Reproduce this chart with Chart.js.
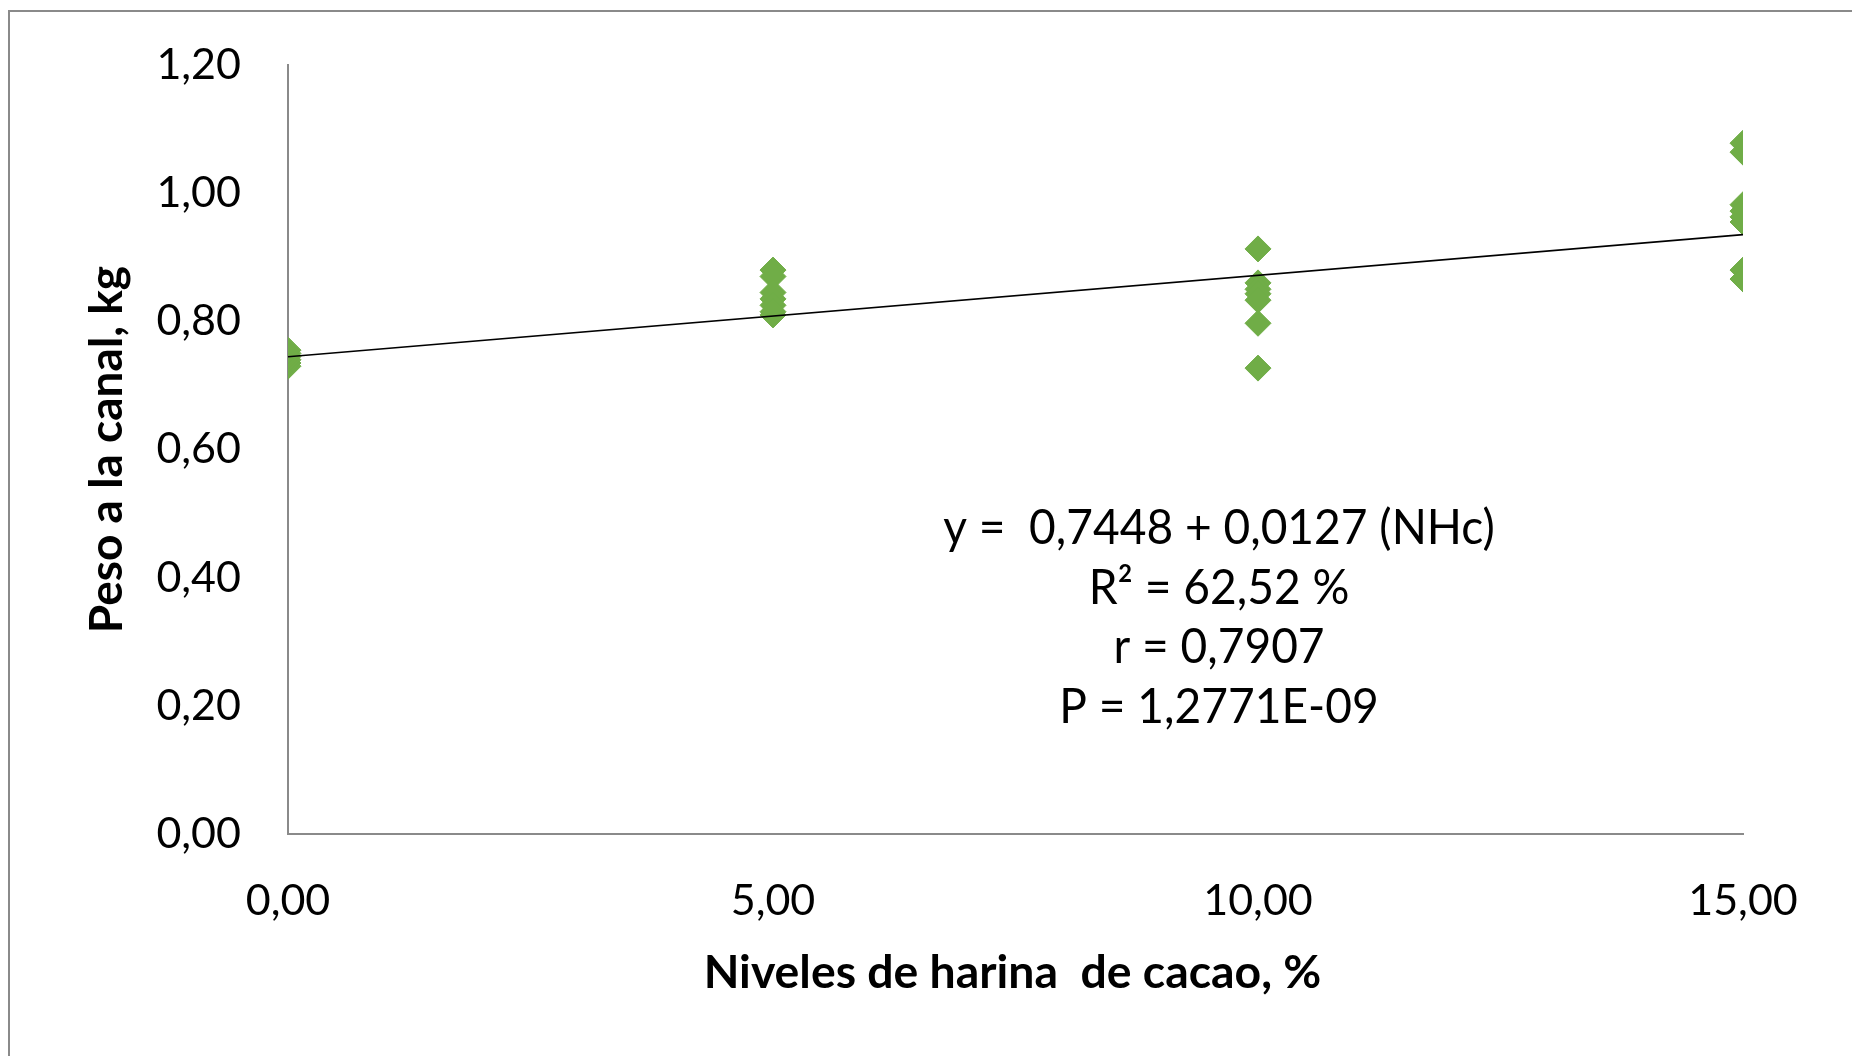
<!DOCTYPE html>
<html lang="es">
<head>
<meta charset="utf-8">
<title>Peso a la canal según niveles de harina de cacao</title>
<script src="https://cdn.jsdelivr.net/npm/chart.js@4.4.1/dist/chart.umd.min.js"></script>
<style>
  html, body { margin: 0; padding: 0; background: #fff; overflow: hidden; }
  #wrap { position: relative; width: 1852px; height: 1056px; }
  #frame { position: absolute; left: 8px; top: 10px; width: 1900px; height: 1100px;
           border-left: 2px solid #8a8a8a; border-top: 2px solid #8a8a8a; }
  canvas { position: absolute; left: 0; top: 0; }
</style>
</head>
<body>
<div id="wrap">
  <div id="frame"></div>
  <canvas id="grafico" width="1852" height="1056"></canvas>
</div>
<script>
// Peso a la canal (kg) de cada animal según el nivel de harina de cacao (%)
const niveles = [0, 5, 10, 15];
const peso0  = [0.730, 0.735, 0.740, 0.745, 0.750, 0.755];
const peso5  = [0.880, 0.870, 0.845, 0.835, 0.825, 0.815, 0.810];
const peso10 = [0.913, 0.860, 0.850, 0.843, 0.833, 0.797, 0.727];
const peso15 = [1.078, 1.064, 0.982, 0.972, 0.963, 0.955, 0.880, 0.866];

// Recta ajustada y = 0,7448 + 0,0127 (NHc), extremos en 0 y 15 %
const rectaX = [0, 15];
const rectaY = [0.7448, 0.9353];

// Etiquetas de los ejes
const xTickLabels = ['0,00', '5,00', '10,00', '15,00'];
const yTickLabels = ['0,00', '0,20', '0,40', '0,60', '0,80', '1,00', '1,20'];
const tituloX = 'Niveles de harina  de cacao, %';
const tituloY = 'Peso a la canal, kg';
const ecuacion = ['y =  0,7448 + 0,0127 (NHc)', 'R² = 62,52 %', 'r = 0,7907', 'P = 1,2771E-09'];

const grupos = [peso0, peso5, peso10, peso15];
const puntos = [];
grupos.forEach((g, i) => g.forEach(v => puntos.push({ x: niveles[i], y: v })));
const recta = rectaX.map((x, i) => ({ x: x, y: rectaY[i] }));

// Título del eje X y recuadro con la ecuación
const textos = {
  id: 'textos',
  afterDatasetsDraw(chart) {
    const ctx = chart.ctx;
    const ca = chart.chartArea;
    ctx.save();
    ctx.fillStyle = '#000';
    ctx.textAlign = 'center';
    ctx.textBaseline = 'alphabetic';

    ctx.font = 'bold 45px Lato';
    ctx.save();
    ctx.translate((ca.left + ca.right) / 2 - 3, ca.bottom + 154);
    ctx.scale(1.03, 1);
    ctx.fillText(tituloX, 0, 0);
    ctx.restore();

    const cx = ca.left + 931;
    ctx.font = '48px Lato';
    ecuacion.forEach((t, i) => {
      ctx.save();
      ctx.translate(cx, 544 + 59.5 * i);
      ctx.scale(0.96, 1);
      ctx.fillText(t, 0, 0);
      ctx.restore();
    });
    ctx.restore();
  }
};

new Chart(document.getElementById('grafico'), {
  type: 'scatter',
  data: {
    datasets: [
      {
        type: 'line',
        data: recta,
        borderColor: '#000',
        borderWidth: 1.6,
        pointRadius: 0,
        fill: false,
        order: 0
      },
      {
        data: puntos,
        pointStyle: 'rectRot',
        pointRadius: 13,
        pointHoverRadius: 13,
        backgroundColor: '#70ad47',
        borderColor: '#70ad47',
        borderWidth: 1,
        order: 1
      }
    ]
  },
  options: {
    responsive: false,
    animation: false,
    devicePixelRatio: 1,
    events: [],
    layout: { padding: { top: 65, right: 109, left: 0, bottom: 0 } },
    plugins: { legend: { display: false }, tooltip: { enabled: false } },
    scales: {
      x: {
        type: 'linear',
        min: 0, max: 15,
        afterFit(s) { s.height = 222; },
        grid: { display: false, drawTicks: false },
        border: { display: true, color: '#8a8a8a', width: 2 },
        ticks: {
          stepSize: 5,
          padding: 41,
          color: '#000',
          font: { family: 'Lato', size: 43 },
          callback: (v, i) => xTickLabels[i]
        }
      },
      y: {
        type: 'linear',
        min: 0, max: 1.2,
        afterFit(s) {
          s.width = 288;
          s.paddingTop = 26;
          s.paddingBottom = 26;
        },
        grid: { display: false, drawTicks: false },
        border: { display: true, color: '#8a8a8a', width: 2 },
        title: {
          display: true,
          text: tituloY,
          color: '#000',
          font: { family: 'Lato', size: 46, weight: 'bold' },
          padding: { top: 80, bottom: 0 }
        },
        ticks: {
          stepSize: 0.2,
          padding: 47,
          color: '#000',
          font: { family: 'Lato', size: 43 },
          callback: (v, i) => yTickLabels[i]
        }
      }
    }
  },
  plugins: [textos]
});
</script>
</body>
</html>
